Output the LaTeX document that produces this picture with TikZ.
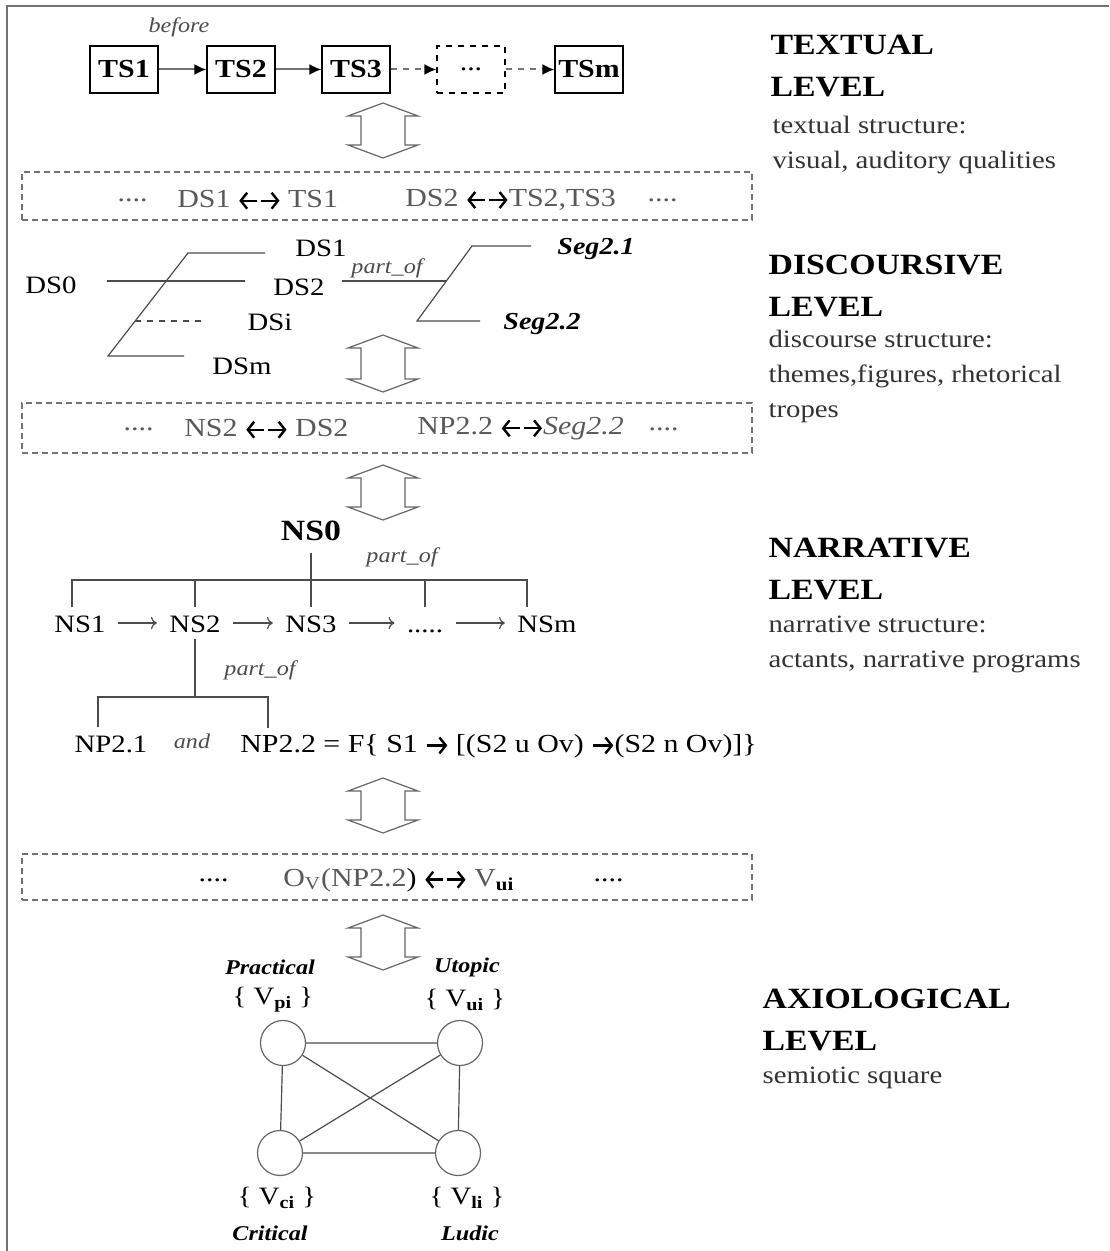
\documentclass[tikz,border=0pt]{standalone}
\usepackage{fontspec}
\setmainfont{Liberation Serif}[FakeStretch=1.15]
\usetikzlibrary{arrows.meta}
\tikzset{txtarr/.style={draw=black, line width=1.2pt, -{Straight Barb[length=3.2pt,width=8pt]}}}
\newcommand\dualarr{\tikz[baseline=-0.55ex]{\draw[txtarr] (0.7em,0pt) -- (0pt,0pt); \draw[txtarr] (0.85em,0pt) -- (1.55em,0pt);}}
\newcommand\fwdarr{\tikz[baseline=-0.55ex]{\draw[txtarr] (0pt,0pt) -- (0.8em,0pt);}}
\definecolor{linegray}{gray}{0.3}
\definecolor{boxgray}{gray}{0.45}
\definecolor{txtgray}{gray}{0.35}
\begin{document}
\begin{tikzpicture}[x=0.5pt, y=-0.5pt, semithick]
\tikzset{
    tsbox/.style={draw, minimum width=34pt, minimum height=23.5pt, inner sep=0pt, font=\fontsize{13}{15}\selectfont\bfseries},
    tsarrow/.style={-{Latex[length=6pt,width=5.5pt,color=black]}, draw=black!55, line width=1pt},
    linkbox/.style={draw=boxgray, dash pattern=on 3pt off 2pt, minimum width=365pt, inner sep=0pt},
    linktext/.style={anchor=west, inner sep=0pt, text=txtgray, font=\fontsize{13}{15}\selectfont},
    hollow/.style={draw=black!60, line width=0.6pt, line join=miter},
    dnode/.style={inner sep=0pt, font=\fontsize{12.5}{15}\selectfont},
    seg/.style={inner sep=0pt, font=\fontsize{12.2}{15}\selectfont\bfseries\itshape},
    dline/.style={draw=linegray, line width=0.6pt},
    rel/.style={inner sep=0pt, text=black!70, font=\fontsize{10.5}{12}\selectfont\itshape},
    nnode/.style={inner xsep=6pt, inner ysep=3pt, text height=9pt, text depth=0pt, font=\fontsize{12.5}{15}\selectfont},
    narrow/.style={->, draw=linegray, line width=0.6pt},
    vcircle/.style={circle, draw=black!60, minimum size=22.5pt, inner sep=0pt},
    vlabel/.style={inner sep=0pt, font=\fontsize{12.5}{14}\selectfont},
    vname/.style={inner sep=0pt, font=\fontsize{10.5}{12}\selectfont\bfseries\itshape},
    levelhead/.style={anchor=west, align=left, inner sep=0pt, font=\fontsize{14.7}{21}\selectfont\bfseries},
    leveldesc/.style={anchor=west, align=left, inner sep=0pt, text=black!80, font=\fontsize{12.5}{17.5}\selectfont},
}
\useasboundingbox (0,0) rectangle (1109,1251);
\draw[black!55, line width=1pt] (7,1251) -- (7,6) -- (1109,6);

% textual level
\node[tsbox] (ts1) at (124,69.5) {TS1};
\node[tsbox] (ts2) at (241,69.5) {TS2};
\node[tsbox] (ts3) at (356,69.5) {TS3};
\node[tsbox, dashed, font=\fontsize{13}{15}\selectfont] (tsi) at (471,69.5) {...};
\node[tsbox] (tsm) at (589,69.5) {TSm};
\node[rel] (before) at (179,27) {before};
\draw[tsarrow] (ts1) -- (ts2);
\draw[tsarrow] (ts2) -- (ts3);
\draw[tsarrow, dashed] (ts3) -- (tsi);
\draw[tsarrow, dashed] (tsi) -- (tsm);

% hollow arrows between levels
\foreach \ya/\yb in {103/158, 335/392, 465/520, 778/833, 915/970}
    \draw[hollow] (383,\ya) -- (418,\ya+13) -- (405,\ya+13) -- (405,\yb-13) -- (418,\yb-13) -- (383,\yb)
        -- (348,\yb-13) -- (361,\yb-13) -- (361,\ya+13) -- (348,\ya+13) -- cycle;

% link boxes
\node[linkbox, minimum height=24pt] (link1) at (387,196) {};
\node[linktext] (l1a) at (117,200) {....};
\node[linktext] (l1b) at (177,200) {DS1 \dualarr{} TS1};
\node[linktext] (l1c) at (405,200) {DS2 \dualarr TS2,TS3};
\node[linktext] (l1d) at (647,200) {....};

\node[linkbox, minimum height=25pt] (link2) at (387,428) {};
\node[linktext] (l2a) at (123,429) {....};
\node[linktext] (l2b) at (184,429) {NS2 \dualarr{} DS2};
\node[linktext] (l2c) at (417,429) {NP2.2 \dualarr\textit{Seg2.2}};
\node[linktext] (l2d) at (648,429) {....};

\node[linkbox, minimum height=23pt] (link3) at (387,877) {};
\node[linktext, text=black] (l3a) at (198,880) {....};
\node[linktext] (l3b) at (283,880) {O\textsubscript{V}(NP2.2{\color{black})} \dualarr{} V\textsubscript{\textbf{\color{black}ui}}};
\node[linktext, text=black] (l3d) at (593,880) {....};

% discoursive level
\node[dnode] (ds0) at (51,285) {DS0};
\node[dnode] (ds1) at (321,248) {DS1};
\node[dnode] (ds2) at (299,287) {DS2};
\node[dnode] (dsi) at (270,322) {DSi};
\node[dnode] (dsm) at (242,366) {DSm};
\node[seg] (seg21) at (596,249) {Seg2.1};
\node[seg] (seg22) at (542,324) {Seg2.2};
\node[rel] (dpart) at (387,268) {part\_of};

\coordinate (dtop) at (188,253);
\coordinate (dbot) at (108,356);
\coordinate (ds1end) at (265,253);
\coordinate (dsmend) at (184,356);
\coordinate (dsia) at (135,321);
\coordinate (dsib) at (205,321);
\coordinate (ds0a) at (107,281);
\coordinate (ds0b) at (245,281);
\draw[dline] (ds1end) -- (dtop) -- (dbot) -- (dsmend);
\draw[dline] (ds0a) -- (ds0b);
\draw[dline, dashed] (dsia) -- (dsib);

\coordinate (stop) at (472,246);
\coordinate (sbot) at (417,321);
\coordinate (s1end) at (531,246);
\coordinate (s2end) at (480,321);
\coordinate (pa) at (342,281);
\coordinate (pb) at (447,281);
\draw[dline] (s1end) -- (stop) -- (sbot) -- (s2end);
\draw[dline] (pa) -- (pb);

% narrative level
\node[nnode, text height=10pt, font=\fontsize{14.7}{17}\selectfont\bfseries] (ns0) at (311,530) {NS0};
\node[nnode] (ns1) at (80,623) {NS1};
\node[nnode] (ns2) at (195,623) {NS2};
\node[nnode] (ns3) at (311,623) {NS3};
\node[nnode] (nsi) at (425,623) {.....};
\node[nnode] (nsm) at (547,623) {NSm};
\node[rel] (npart) at (402,557) {part\_of};
\draw[narrow] (ns1) -- (ns2);
\draw[narrow] (ns2) -- (ns3);
\draw[narrow] (ns3) -- (nsi);
\draw[narrow] (nsi) -- (nsm);

\coordinate (nbl) at (72,580);
\coordinate (nbr) at (527,580);
\draw[dline] ([xshift=-4pt]ns1.north) -- (nbl) -- (nbr) -- ([xshift=-10pt]nsm.north);
\draw[dline] (ns2.north) -- (ns2.north |- nbl);
\draw[dline] (nsi.north) -- (nsi.north |- nbl);
\draw[dline, shorten <=3pt] (ns0) -- (ns3);

\node[nnode] (np21) at (111,743) {NP2.1};
\node[rel] (npand) at (192,741) {and};
\node[nnode, anchor=west, font=\fontsize{13}{15}\selectfont] (np22) at (228,743) {NP2.2 = F\{ S1 \fwdarr{} [(S2 u Ov) \fwdarr(S2 n Ov)]\}};
\node[rel] (ppart) at (260,670) {part\_of};

\coordinate (npl) at (98,697);
\coordinate (npr) at (268,697);
\draw[dline] (ns2.south) -- (ns2.south |- npl);
\draw[dline] ([xshift=-6.5pt]np21.north) -- (npl) -- (npr) -- (npr |- np22.north);

% axiological level
\node[vcircle] (prac) at (283,1043) {};
\node[vcircle] (utop) at (460,1043) {};
\node[vcircle] (crit) at (280,1153) {};
\node[vcircle] (ludi) at (458,1153) {};
\draw[dline] (prac) -- (utop) -- (ludi) -- (crit) -- (prac);
\draw[dline] (prac) -- (ludi);
\draw[dline] (utop) -- (crit);

\node[vname] (pracname) at (270,967) {Practical};
\node[vlabel] (praclab) at (273,1000) {\{ V\textsubscript{\textbf{pi}} \}};
\node[vname] (utopname) at (467,967) {Utopic};
\node[vlabel] (utoplab) at (465,1000) {\{ V\textsubscript{\textbf{ui}} \}};
\node[vlabel] (critlab) at (277,1198) {\{ V\textsubscript{\textbf{ci}} \}};
\node[vname] (critname) at (270,1233) {Critical};
\node[vlabel] (ludilab) at (467,1198) {\{ V\textsubscript{\textbf{li}} \}};
\node[vname] (ludiname) at (470,1233) {Ludic};

% level descriptions
\node[levelhead] (texthead) at (770,66) {TEXTUAL\\LEVEL};
\node[leveldesc] (textdesc) at (772,145) {textual structure:\\visual, auditory qualities};
\node[levelhead] (dischead) at (768,286) {DISCOURSIVE\\LEVEL};
\node[leveldesc] (discdesc) at (768,376) {discourse structure:\\themes,figures, rhetorical\\tropes};
\node[levelhead] (narrhead) at (768,569) {NARRATIVE\\LEVEL};
\node[leveldesc] (narrdesc) at (768,644) {narrative structure:\\actants, narrative programs};
\node[levelhead] (axiohead) at (762,1020) {AXIOLOGICAL\\LEVEL};
\node[leveldesc] (axiodesc) at (762,1078) {semiotic square};
\end{tikzpicture}
\end{document}
